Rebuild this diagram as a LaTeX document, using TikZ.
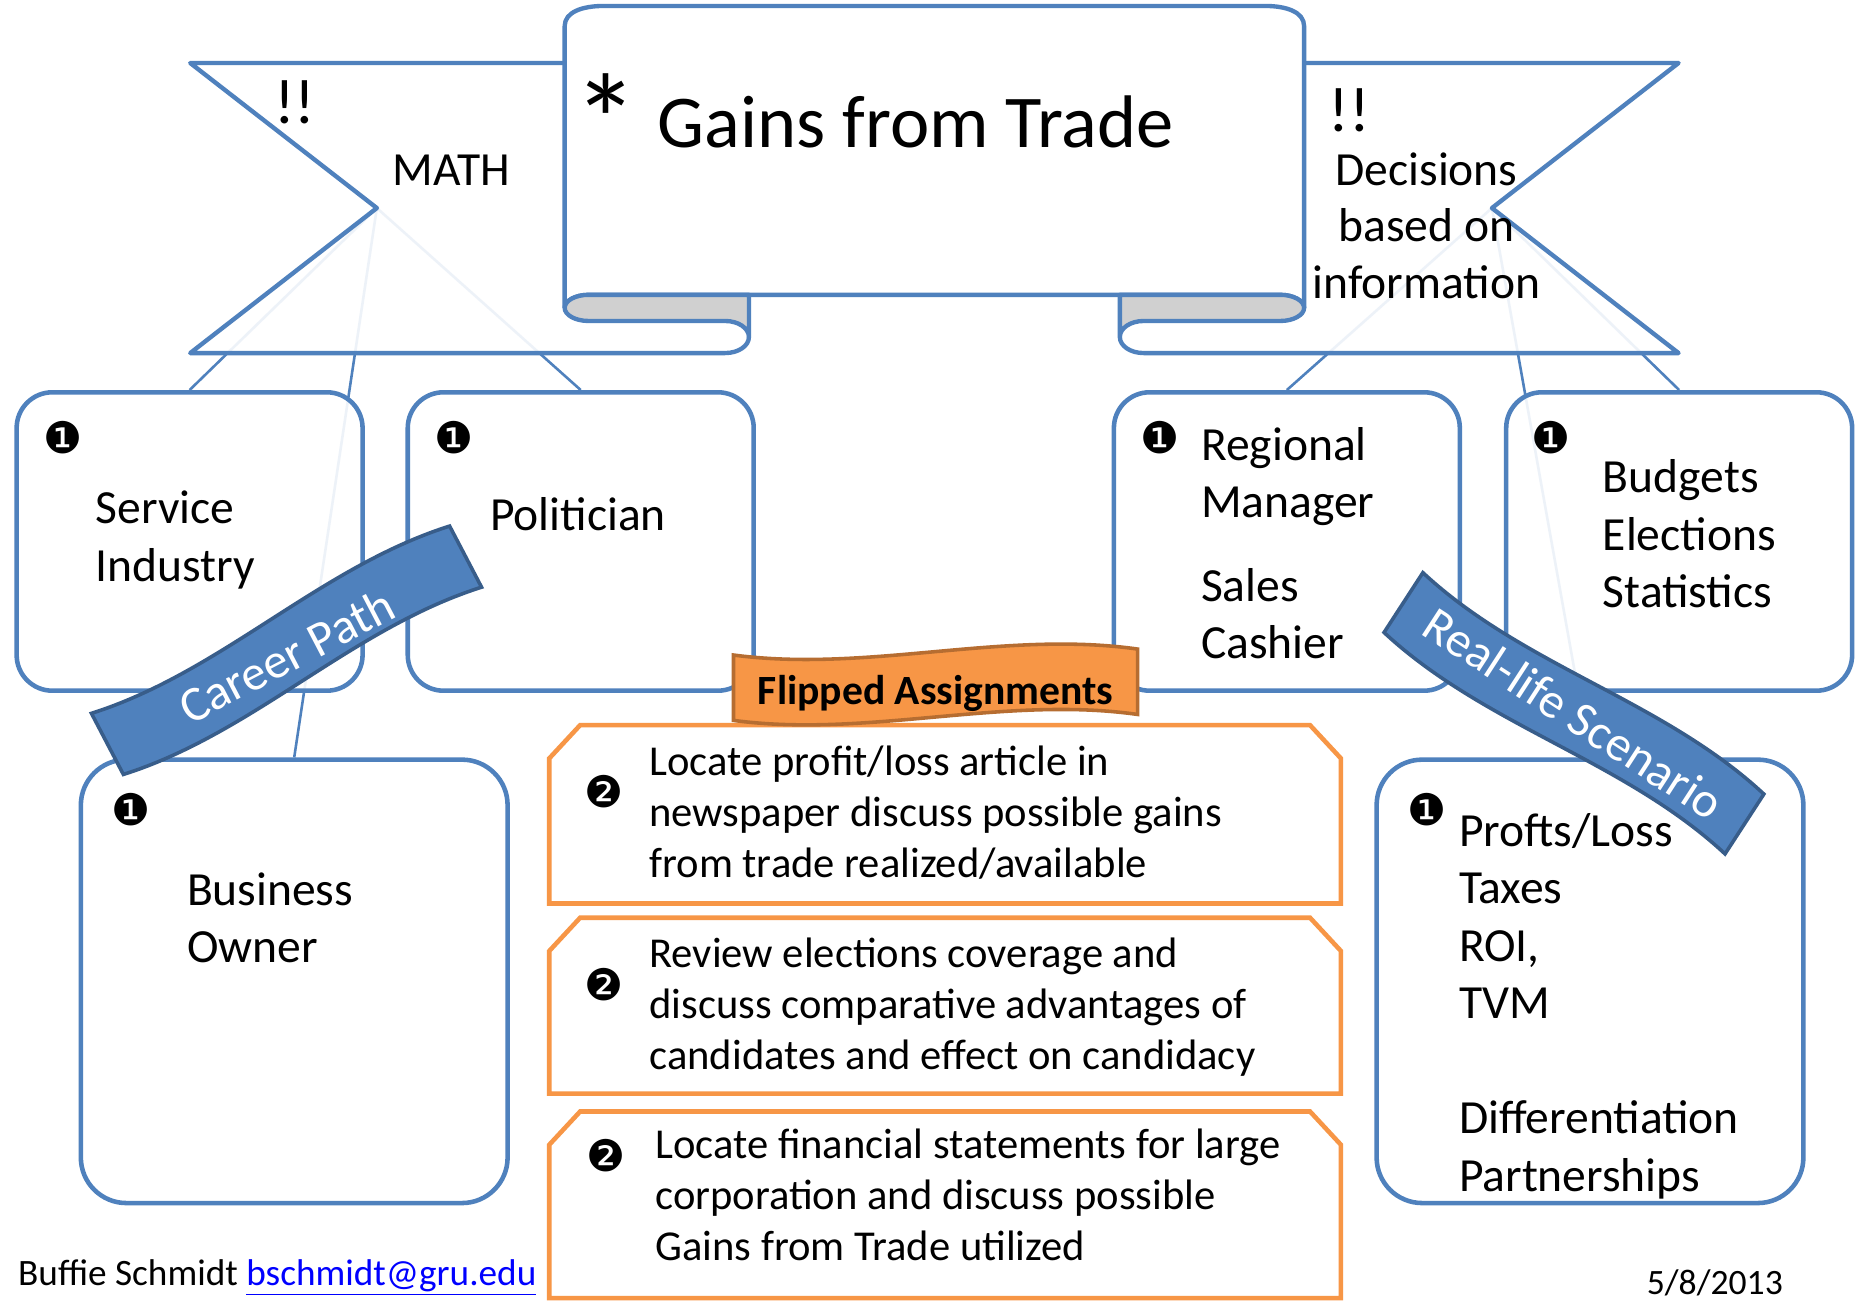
\documentclass[tikz,border=0pt]{standalone}
\usepackage{fontspec}
\setmainfont{Carlito}
\newfontfamily\dingfont{DejaVu Sans}
\definecolor{ribbonblue}{RGB}{79,129,189}
\definecolor{waveline}{RGB}{56,93,138}
\definecolor{fliporange}{RGB}{247,150,70}
\definecolor{flipline}{RGB}{182,109,49}
\definecolor{curlgray}{RGB}{208,208,208}
\definecolor{maillink}{RGB}{0,0,255}
\newdimen\unitpx \unitpx=0.6pt
\pgfdeclarelayer{back}
\pgfsetlayers{back,main}
\tikzset{
  ribbon/.style={draw=ribbonblue, line width=2.2pt, line join=round},
  spoke/.style={ribbonblue, line width=1.3pt},
  jobbox/.style={draw=ribbonblue, line width=2.3pt, fill=white, fill opacity=0.9, rounded corners=18pt,
    minimum width=291\unitpx, minimum height=251\unitpx, inner sep=0pt},
  bigjobbox/.style={jobbox, rounded corners=23pt, minimum width=359\unitpx, minimum height=373\unitpx},
  wave/.style={draw=waveline, line width=1.8pt, fill=ribbonblue},
  flipwave/.style={draw=flipline, line width=1.8pt, fill=fliporange},
  taskbox/.style={draw=fliporange, line width=2.3pt, fill=white},
  jobtext/.style={anchor=base west, align=left, inner sep=0pt, font=\fontsize{24}{29}\selectfont},
  tasktext/.style={anchor=base west, align=left, inner sep=0pt, font=\fontsize{21.5}{25.8}\selectfont},
  ribbontext/.style={anchor=base, align=center, inner sep=0pt, font=\fontsize{24}{28.5}\selectfont},
  bangs/.style={anchor=base, inner sep=0pt, font=\fontsize{32}{32}\selectfont},
  badge/.style={inner sep=0pt, font=\dingfont\fontsize{22}{22}\selectfont},
  wavetext/.style={inner sep=0pt, white, font=\fontsize{25}{25}\selectfont}
}

\begin{document}
\begin{tikzpicture}[x=0.6pt, y=-0.6pt]
  \useasboundingbox (0,0) rectangle (1568,1096);

  \node[jobbox] (service) at (159.5,455.5) {};
  \node[jobbox] (politician) at (488.5,455.5) {};
  \node[jobbox] (manager) at (1082.5,455.5) {};
  \node[jobbox] (budgets) at (1412.5,455.5) {};
  \node[bigjobbox] (owner) at (247.5,825.5) {};
  \node[bigjobbox] (profits) at (1337.5,825.5) {};
  \coordinate (mathtip) at (317,175);
  \coordinate (infotip) at (1255,175);

  \begin{pgfonlayer}{back}
    \fill[white] (0,0) rectangle (1568,1096);
    \draw[spoke] (mathtip) -- (service.north);
    \draw[spoke] (mathtip) -- (politician.north);
    \draw[spoke] (mathtip) -- (owner.north);
    \draw[spoke] (infotip) -- (manager.north);
    \draw[spoke] (infotip) -- (budgets.north);
    \draw[spoke] (infotip) -- (profits.north);
  \end{pgfonlayer}

  \fill[white, fill opacity=0.9]
   (475,53) -- (160,53) -- (mathtip) -- (160,297) -- (610,297)
   .. controls (621,297) and (630,291) .. (630,283.5) -- (630,53) -- cycle;
  \draw[ribbon]
   (475,53) -- (160,53) -- (mathtip) -- (160,297) -- (610,297)
   .. controls (621,297) and (630,291) .. (630,283.5);
  \fill[white, fill opacity=0.9]
   (1097,53) -- (1412,53) -- (infotip) -- (1412,297) -- (962,297)
   .. controls (951,297) and (942,291) .. (942,283.5) -- (942,53) -- cycle;
  \draw[ribbon]
   (1097,53) -- (1412,53) -- (infotip) -- (1412,297) -- (962,297)
   .. controls (951,297) and (942,291) .. (942,283.5);

  \filldraw[ribbon, fill=white]
   (495,248) .. controls (484,248) and (475,253) .. (475,259) -- (475,22)
   .. controls (475,10) and (490,5) .. (508,5) -- (1064,5)
   .. controls (1082,5) and (1097,10) .. (1097,22) -- (1097,259)
   .. controls (1097,253) and (1088,248) .. (1077,248) -- cycle;
  \filldraw[ribbon, fill=curlgray]
   (475,259) .. controls (475,265) and (484,270) .. (495,270) -- (610,270)
   .. controls (621,270) and (630,276) .. (630,283.5) -- (630,248) -- (495,248)
   .. controls (484,248) and (475,253) .. (475,259) -- cycle;
  \filldraw[ribbon, fill=curlgray]
   (1097,259) .. controls (1097,265) and (1088,270) .. (1077,270) -- (962,270)
   .. controls (951,270) and (942,276) .. (942,283.5) -- (942,248) -- (1077,248)
   .. controls (1088,248) and (1097,253) .. (1097,259) -- cycle;

  \node[anchor=base, inner sep=0pt, font=\fontsize{66}{66}\selectfont] (star) at (510,140) {*};
  \node[anchor=base west, inner sep=0pt, font=\fontsize{37.6}{44}\selectfont] (title) at (553,124) {Gains from Trade};
  \node[bangs] (mathbangs) at (248,104) {!!};
  \node[ribbontext, anchor=base west] (math) at (330,156) {MATH};
  \node[bangs] (infobangs) at (1135,111) {!!};
  \node[ribbontext] (decisions) at (1200,251) {Decisions\\based on\\information};

  \node[badge] (serviceno) at (53,368) {❶};
  \node[jobtext] (servicetext) at (80,489) {Service\\Industry};
  \node[badge] (politicianno) at (382,368) {❶};
  \node[jobtext] (politiciantext) at (412,446) {Politician};
  \node[badge] (managerno) at (976,368) {❶};
  \node[jobtext] (managertext) at (1010,554) {Regional\\Manager\\[13pt]Sales\\Cashier};
  \node[badge] (budgetsno) at (1305,368) {❶};
  \node[jobtext] (budgetstext) at (1348,511) {Budgets\\Elections\\Statistics};
  \node[badge] (ownerno) at (110,681) {❶};
  \node[jobtext] (ownertext) at (157,810) {Business\\Owner};
  \node[badge] (profitsno) at (1200,681) {❶};
  \node[jobtext] (profitstext) at (1227,1002) {Profts/Loss\\Taxes\\ROI,\\TVM\\[29pt]Differentiation\\Partnerships};

  \begin{scope}[shift={(241,547)}, rotate=27.6]
    \filldraw[wave] (-170,-29) .. controls (-57,-9) and (57,-49) .. (170,-29) -- (170,29)
     .. controls (57,9) and (-57,49) .. (-170,29) -- cycle;
    \node[wavetext, rotate=27.6] (career) at (-2,4) {Career Path};
  \end{scope}
  \begin{scope}[shift={(1324,600)}, rotate=-33]
    \filldraw[wave] (-171,-30) .. controls (-57,-10) and (57,-50) .. (171,-30) -- (171,30)
     .. controls (57,10) and (-57,50) .. (-171,30) -- cycle;
    \node[wavetext, rotate=-33] (reallife) at (0,0) {Real-life Scenario};
  \end{scope}

  \draw[taskbox] (462,638) -- (488,610) -- (1102,610) -- (1128,638) -- (1128,760) -- (462,760) -- cycle;
  \draw[taskbox] (462,800) -- (488,772) -- (1102,772) -- (1128,800) -- (1128,920) -- (462,920) -- cycle;
  \draw[taskbox] (462,963) -- (488,935) -- (1102,935) -- (1128,963) -- (1128,1092) -- (462,1092) -- cycle;

  \filldraw[flipwave] (617,551) .. controls (730,566) and (844,530) .. (957,546) -- (957,601)
   .. controls (844,585) and (730,621) .. (617,606) -- cycle;
  \node[anchor=base, inner sep=0pt, font=\bfseries\fontsize{21}{21}\selectfont] (flipped) at (787,593) {Flipped Assignments};

  \node[badge] (taskoneno) at (508,666) {❷};
  \node[tasktext] (taskone) at (546,738.5) {Locate profit/loss article in\\newspaper discuss possible gains\\from trade realized/available};
  \node[badge] (tasktwono) at (508,828) {❷};
  \node[tasktext] (tasktwo) at (546,899.5) {Review elections coverage and\\discuss comparative advantages of\\candidates and effect on candidacy};
  \node[badge] (taskthreeno) at (510,972) {❷};
  \node[tasktext] (taskthree) at (551,1060.5) {Locate financial statements for large\\corporation and discuss possible\\Gains from Trade utilized};

  \node[anchor=base west, inner sep=0pt, font=\fontsize{18.8}{23}\selectfont] (author) at (15,1081)
   {Buffie Schmidt \textcolor{maillink}{\underline{bschmidt@gru.edu}}};
  \node[anchor=base west, inner sep=0pt, font=\fontsize{18}{22}\selectfont] (date) at (1385,1089) {5/8/2013};
\end{tikzpicture}
\end{document}
